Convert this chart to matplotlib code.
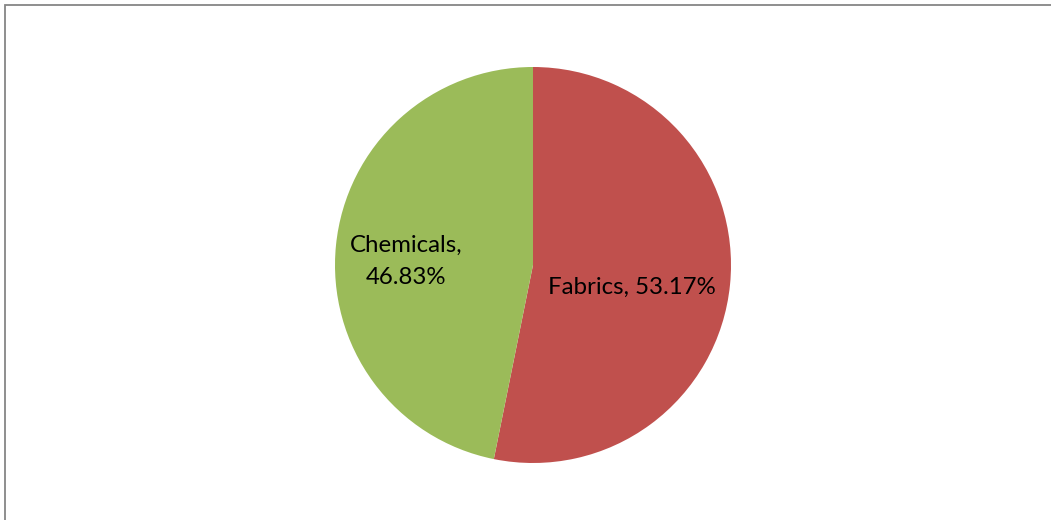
import matplotlib.pyplot as plt
from matplotlib.patches import Rectangle

categories = ['Fabrics', 'Chemicals']
shares = [53.17, 46.83]
colors = ['#C0504D', '#9BBB59']
label_text = ['Fabrics, 53.17%', 'Chemicals,\n46.83%']
label_pos = [(0.50, -0.115), (-0.64, 0.02)]

plt.rcParams['font.family'] = ['Lato', 'DejaVu Sans']

W, H = 1051, 520
fig = plt.figure(figsize=(W / 100, H / 100), dpi=100)

# chart frame, runs off the right and bottom edges
fig.patches.append(Rectangle((5 / W, -0.05), 1.2, 1 - 5 / H + 0.05,
                             transform=fig.transFigure, fill=False,
                             edgecolor='#868686', linewidth=1.3))

cx, cy, r = 533, 265, 198
ax = fig.add_axes([(cx - r) / W, (H - cy - r) / H, 2 * r / W, 2 * r / H])
ax.pie(shares, colors=colors, startangle=90, counterclock=False,
       wedgeprops=dict(linewidth=0))
ax.set_xlim(-1, 1)
ax.set_ylim(-1, 1)
ax.set_aspect('equal')
ax.axis('off')

for txt, (x, y) in zip(label_text, label_pos):
    ax.text(x, y, txt, ha='center', va='center', fontsize=17.3,
            color='black', linespacing=1.65)

fig.savefig('out.png', dpi=100)
